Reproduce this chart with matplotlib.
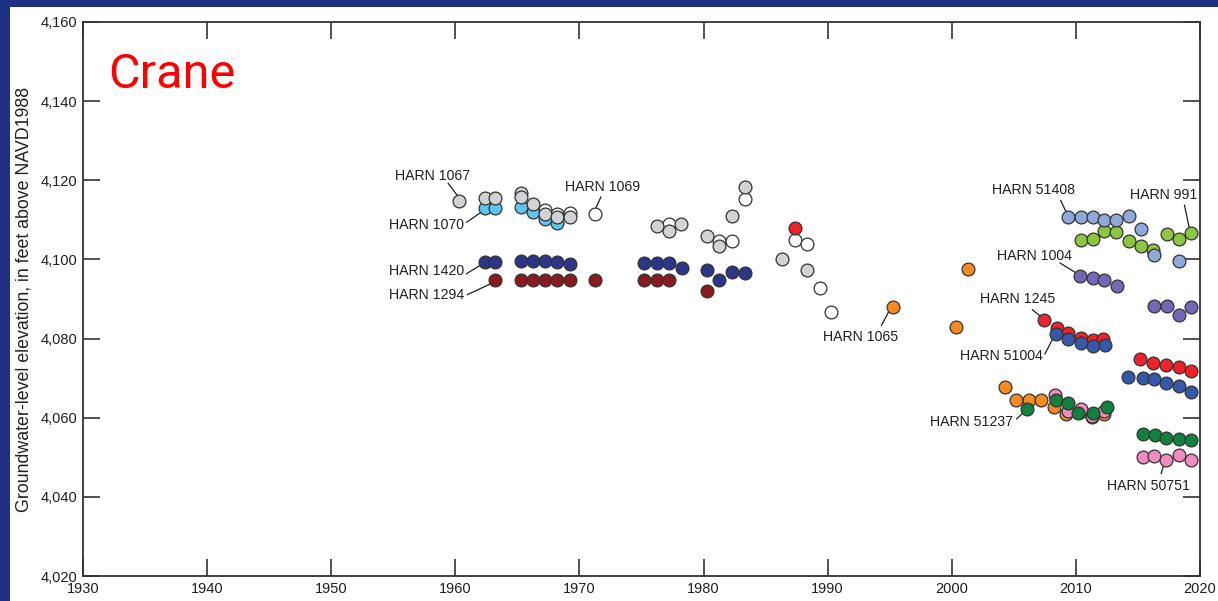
import matplotlib.pyplot as plt
from matplotlib.patches import Rectangle
from matplotlib.ticker import FuncFormatter

plt.rcParams['font.family'] = ['Liberation Sans', 'DejaVu Sans']

# well groups, by marker colour (year, elevation ft)
gray_yr = [1960.29, 1962.39, 1963.2, 1965.27, 1965.3, 1966.24, 1967.23, 1968.23, 1969.25,
           1976.25, 1977.24, 1978.2, 1980.3, 1981.27, 1982.3, 1983.37, 1986.33, 1988.32]
gray_el = [4114.7, 4115.6, 4115.6, 4116.8, 4115.8, 4114.1, 4111.6, 4110.6, 4110.7,
           4108.4, 4107.3, 4108.9, 4105.9, 4103.3, 4110.9, 4118.2, 4100.0, 4097.4]

white_yr = [1967.23, 1968.23, 1969.25, 1971.27, 1977.24, 1981.27, 1982.3, 1983.37,
            1987.33, 1988.32, 1989.35, 1990.3]
white_el = [4112.4, 4111.6, 4111.8, 4111.6, 4109.0, 4104.6, 4104.6, 4115.2,
            4104.8, 4103.8, 4092.8, 4086.8]

ltblue_yr = [1962.39, 1963.2, 1965.27, 1966.24, 1967.23, 1968.23]
ltblue_el = [4113.0, 4113.0, 4113.2, 4112.0, 4110.1, 4109.3]

navy_yr = [1962.39, 1963.2, 1965.27, 1966.24, 1967.23, 1968.23, 1969.25, 1975.22, 1976.25,
           1977.24, 1978.24, 1980.3, 1981.27, 1982.3, 1983.37]
navy_el = [4099.3, 4099.3, 4099.5, 4099.5, 4099.5, 4099.3, 4098.9, 4099.1, 4099.1,
           4099.1, 4097.8, 4097.4, 4094.7, 4096.8, 4096.6]

dkred_yr = [1963.2, 1965.27, 1966.24, 1967.23, 1968.23, 1969.25, 1971.27, 1975.22, 1976.25,
            1977.24, 1980.3]
dkred_el = [4094.9, 4094.9, 4094.9, 4094.9, 4094.9, 4094.8, 4094.9, 4094.9, 4094.7,
            4094.9, 4092.0]

red_yr = [1987.33, 2007.45, 2008.45, 2009.39, 2010.4, 2011.35, 2012.2, 2015.18, 2016.25,
          2017.27, 2018.27, 2019.27]
red_el = [4107.9, 4084.6, 4082.6, 4081.4, 4080.1, 4079.6, 4079.9, 4074.9, 4073.8,
          4073.2, 4072.7, 4071.9]

orange_yr = [1995.3, 2000.38, 2001.27, 2004.3, 2005.2, 2006.2, 2007.2, 2008.2, 2009.2,
             2010.3, 2011.3, 2012.3]
orange_el = [4087.9, 4082.9, 4097.5, 4067.7, 4064.6, 4064.6, 4064.6, 4062.6, 4060.9,
             4061.5, 4060.1, 4060.9]

pink_yr = [2008.3, 2009.39, 2010.4, 2011.3, 2012.3, 2015.4, 2016.3, 2017.27, 2018.27, 2019.27]
pink_el = [4065.8, 4061.8, 4062.2, 4060.5, 4061.8, 4050.0, 4050.2, 4049.4, 4050.6, 4049.4]

dkgreen_yr = [2006.1, 2008.4, 2009.39, 2010.2, 2011.35, 2012.5, 2015.44, 2016.38, 2017.27,
              2018.27, 2019.27]
dkgreen_el = [4062.2, 4064.6, 4063.7, 4061.3, 4061.3, 4062.6, 4055.9, 4055.7, 4054.8,
              4054.6, 4054.4]

blue_yr = [2008.4, 2009.39, 2010.4, 2011.35, 2012.35, 2014.18, 2015.4, 2016.3, 2017.27,
           2018.27, 2019.27]
blue_el = [4081.2, 4079.9, 4078.8, 4078.1, 4078.5, 4070.4, 4070.0, 4069.8, 4068.7,
           4068.0, 4066.4]

green_yr = [2010.4, 2011.35, 2012.29, 2013.24, 2014.3, 2015.24, 2016.25, 2017.33, 2018.32, 2019.29]
green_el = [4105.0, 4105.2, 4107.3, 4106.9, 4104.6, 4103.5, 4102.5, 4106.5, 4105.2, 4106.8]

cflower_yr = [2009.39, 2010.4, 2011.35, 2012.29, 2013.24, 2014.3, 2015.24, 2016.33, 2018.27]
cflower_el = [4110.7, 4110.7, 4110.7, 4109.9, 4109.9, 4111.0, 4107.6, 4101.2, 4099.6]

purple_yr = [2010.33, 2011.35, 2012.3, 2013.3, 2016.33, 2017.33, 2018.32, 2019.29]
purple_el = [4095.8, 4095.4, 4094.9, 4093.3, 4088.2, 4088.2, 4086.0, 4088.1]

# well labels: text, text position, leader line start/end
labels = ["HARN 1067", "HARN 1070", "HARN 1069", "HARN 1420", "HARN 1294", "HARN 1065",
          "HARN 51408", "HARN 991", "HARN 1004", "HARN 1245", "HARN 51004", "HARN 51237",
          "HARN 50751"]
label_xy = [(1958.17, 4121.0), (1957.68, 4108.6), (1971.89, 4118.2), (1957.68, 4097.0),
            (1957.68, 4091.1), (1992.63, 4080.5), (2006.6, 4117.5), (2017.09, 4116.2),
            (2006.67, 4100.8), (2005.3, 4089.9), (2004.0, 4075.7), (2001.6, 4059.0),
            (2015.88, 4042.8)]
leaders = [((1959.43, 4119.2), (1960.2, 4116.0)),
           ((1960.91, 4109.4), (1962.12, 4112.0)),
           ((1971.73, 4115.8), (1971.24, 4112.4)),
           ((1960.9, 4096.4), (1962.0, 4098.5)),
           ((1960.97, 4091.1), (1962.85, 4093.85)),
           ((1994.33, 4083.3), (1994.9, 4086.7)),
           ((2008.77, 4114.9), (2009.26, 4111.7)),
           ((2018.75, 4113.7), (2019.12, 4108.2)),
           ((2008.72, 4099.1), (2010.06, 4096.5)),
           ((2006.49, 4087.3), (2007.24, 4085.4)),
           ((2007.5, 4076.1), (2008.18, 4080.2)),
           ((2005.22, 4059.7), (2005.89, 4061.6)),
           ((2016.87, 4045.9), (2017.14, 4048.7))]

fig = plt.figure(figsize=(12.18, 6.01), dpi=100)
fig.patch.set_facecolor('#1e2f84')
fig.add_artist(Rectangle((10 / 1218, 0), 1, 1 - 7 / 601, transform=fig.transFigure,
                         facecolor='white', edgecolor='none', zorder=0))

ax = fig.add_axes([83 / 1218, 1 - 576 / 601, (1200 - 83) / 1218, (576 - 22) / 601])
ax.set_facecolor('white')

series = [
    (ltblue_yr, ltblue_el, '#5cc6ee'),
    (white_yr, white_el, '#ffffff'),
    (gray_yr, gray_el, '#d1d3d4'),
    (navy_yr, navy_el, '#2b3688'),
    (dkred_yr, dkred_el, '#8a1a1e'),
    (red_yr, red_el, '#ee2229'),
    (blue_yr, blue_el, '#3558a8'),
    (orange_yr, orange_el, '#f68b1f'),
    (pink_yr, pink_el, '#f08cbf'),
    (dkgreen_yr, dkgreen_el, '#12803f'),
    (green_yr, green_el, '#8dc63f'),
    (cflower_yr, cflower_el, '#8eaadb'),
    (purple_yr, purple_el, '#7566b8'),
]
for i, (xs, ys, c) in enumerate(series):
    ax.scatter(xs, ys, s=85, c=c, edgecolors='#333333', linewidths=0.9, zorder=3 + i * 0.01)

for txt, (tx, ty), (p0, p1) in zip(labels, label_xy, leaders):
    ax.text(tx, ty, txt, fontsize=10.2, ha='center', va='center', color='#231f20')
    ax.plot([p0[0], p1[0]], [p0[1], p1[1]], color='#231f20', lw=0.9, zorder=2)

ax.text(1932.0, 4143.4, "Crane", fontsize=35, color='#ff0000', family=['Roboto', 'DejaVu Sans'],
        fontweight='normal', ha='left', va='baseline')

ax.set_xlim(1930, 2020)
ax.set_ylim(4020, 4160)
ax.set_xticks(range(1930, 2021, 10))
ax.set_yticks(range(4020, 4161, 20))
ax.yaxis.set_major_formatter(FuncFormatter(lambda v, p: f"{int(v):,}"))
ax.tick_params(direction='in', length=12, width=1.2, top=True, right=True,
               labelsize=10.5, colors='#333333', labelcolor='#231f20', pad=4)
for sp in ax.spines.values():
    sp.set_color('#333333')
    sp.set_linewidth(1.3)

ax.set_ylabel("Groundwater-level elevation, in feet above NAVD1988", fontsize=12.8,
              color='#231f20')
ax.yaxis.set_label_coords(-0.045, 0.5)

fig.savefig("out.png", dpi=100, facecolor=fig.get_facecolor())
